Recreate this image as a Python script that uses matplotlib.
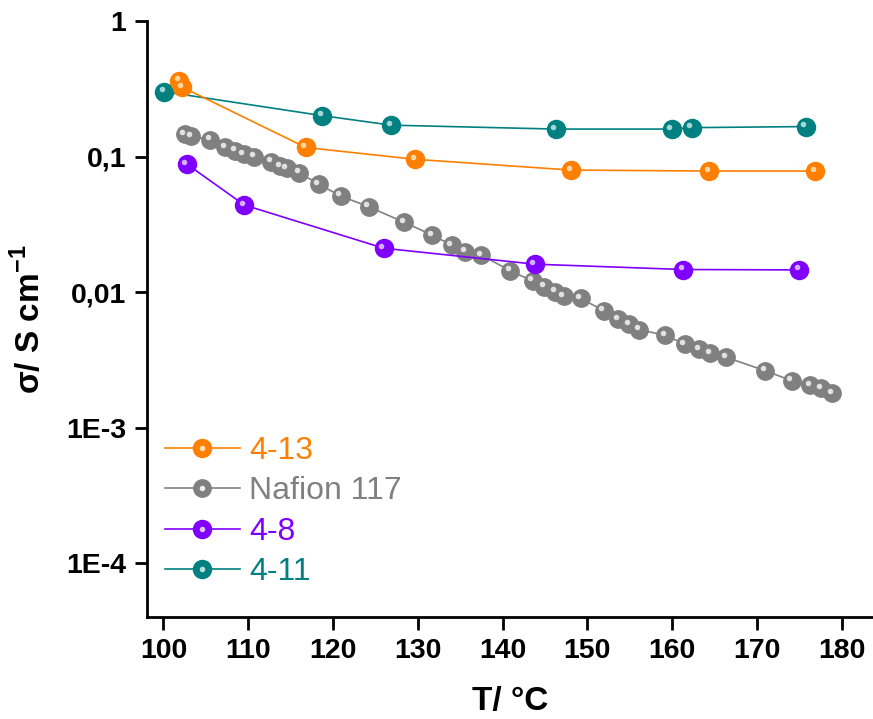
import matplotlib
matplotlib.use("Agg")
import matplotlib.pyplot as plt
import matplotlib.transforms as mtransforms
from matplotlib.legend_handler import HandlerTuple

plt.rcParams['font.family'] = ['Liberation Sans', 'DejaVu Sans']
plt.rcParams['mathtext.fontset'] = 'custom'
plt.rcParams['mathtext.rm'] = 'Liberation Sans'
plt.rcParams['mathtext.bf'] = 'Liberation Sans:bold'

# ---- data ----
t_413 = [101.85, 102.25, 116.8, 129.7, 148.1, 164.4, 176.9]
s_413 = [0.364, 0.326, 0.117, 0.0957, 0.0797, 0.0784, 0.0784]

t_naf = [102.5, 103.3, 105.5, 107.3, 108.45, 109.5, 110.7, 112.7, 113.8, 114.55, 116.0,
         118.3, 120.9, 124.2, 128.4, 131.7, 134.0, 135.6, 137.5, 140.9, 143.55, 144.9,
         146.2, 147.2, 149.2, 151.95, 153.65, 154.95, 156.1, 159.2, 161.5, 163.2, 164.5,
         166.4, 171.0, 174.1, 176.3, 177.6, 178.9]
s_naf = [0.147, 0.142, 0.133, 0.117, 0.111, 0.104, 0.100, 0.0919, 0.0854, 0.082, 0.0762,
         0.0629, 0.0513, 0.0428, 0.0328, 0.0264, 0.0223, 0.0199, 0.0188, 0.0144, 0.0121, 0.0110,
         0.0101, 0.00936, 0.0090, 0.0073, 0.0063, 0.0058, 0.0053, 0.0048, 0.00414, 0.00378, 0.00353,
         0.0033, 0.00263, 0.00222, 0.00206, 0.00195, 0.00179]

t_48 = [102.76, 109.55, 126.0, 143.8, 161.3, 175.0]
s_48 = [0.0883, 0.0440, 0.0211, 0.0161, 0.0147, 0.0146]

t_411 = [100.1, 118.75, 126.9, 146.3, 159.95, 162.3, 175.75]
s_411 = [0.302, 0.201, 0.171, 0.160, 0.160, 0.164, 0.167]

labels = ["4-13", "Nafion 117", "4-8", "4-11"]
colors = ["#FF7F00", "#808080", "#7F00FF", "#008080"]
hl_colors = ["#FFE0B8", "#EDEDED", "#E0C2FF", "#B8E0E0"]
series = [(t_413, s_413), (t_naf, s_naf), (t_48, s_48), (t_411, s_411)]
zorders = [4, 2, 5, 3]
msizes = [13, 12.5, 13, 13]

fig = plt.figure(figsize=(8.73, 7.19), dpi=100)
ax = fig.add_axes([0.1684, 0.1419, 0.8316, 0.8285])

hl_trans = mtransforms.offset_copy(ax.transData, fig=fig, x=-2.5, y=2.5, units='dots')

handles = []
for (t, s), lab, c, hc, z, ms in zip(series, labels, colors, hl_colors, zorders, msizes):
    ln, = ax.plot(t, s, '-o', color=c, lw=1.2, ms=ms, mec=c, mfc=c, zorder=z, label=lab)
    ax.plot(t, s, 'o', ls='none', color=hc, ms=4, mec='none', zorder=z + 0.5,
            transform=hl_trans, alpha=0.9)
    hl2, = ax.plot([], [], 'o', ls='none', color=hc, ms=4, mec='none')
    handles.append((ln, hl2))

ax.set_yscale('log')
ax.set_xlim(98.07, 183.7)
ax.set_ylim(4e-5, 1)

ax.set_xticks([100, 110, 120, 130, 140, 150, 160, 170, 180])
ax.set_xticklabels(['100', '110', '120', '130', '140', '150', '160', '170', '180'])
ax.set_yticks([1e-4, 1e-3, 1e-2, 1e-1, 1])
ax.set_yticklabels(['1E-4', '1E-3', '0,01', '0,1', '1'])
ax.minorticks_off()

for sp in ['top', 'right']:
    ax.spines[sp].set_visible(False)
for sp in ['left', 'bottom']:
    ax.spines[sp].set_linewidth(2)

ax.tick_params(axis='both', which='major', direction='out', length=9, width=2,
               labelsize=20.5, pad=6)
for lbl in ax.get_xticklabels() + ax.get_yticklabels():
    lbl.set_fontweight('bold')

ax.set_xlabel('T/ °C', fontsize=24, fontweight='bold', labelpad=16)
ax.set_ylabel(r'σ/ S cm$^{\mathregular{-1}}$', fontsize=24, fontweight='bold', labelpad=14)

leg = ax.legend(handles, labels, loc='lower left', bbox_to_anchor=(0.0, 0.02),
                frameon=False, fontsize=23, handlelength=2.35, handletextpad=0.3,
                labelspacing=0.33, borderaxespad=0.15,
                handler_map={tuple: HandlerTuple(ndivide=1)})
for txt, c in zip(leg.get_texts(), colors):
    txt.set_color(c)

fig.savefig('out.png', dpi=100)
